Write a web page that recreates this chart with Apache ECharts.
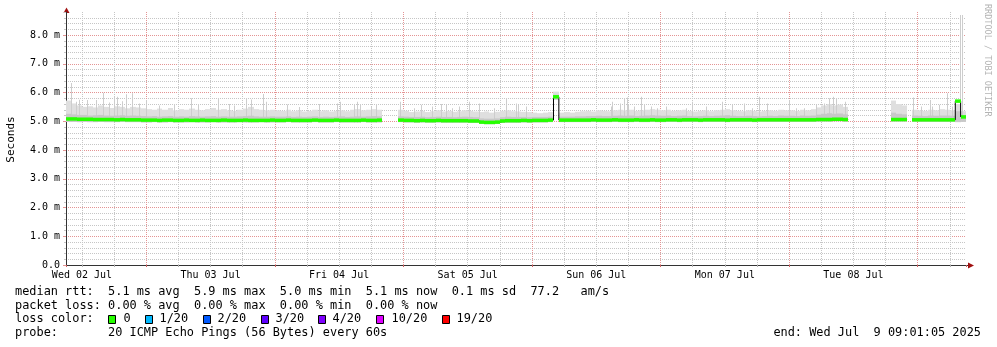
<!DOCTYPE html>
<html><head><meta charset="utf-8">
<script src="https://cdn.jsdelivr.net/npm/echarts@6/dist/echarts.min.js"></script>
<style>html,body{margin:0;padding:0;background:#fff}#c{width:997px;height:347px}</style>
</head><body><div id="c"></div>
<script>
// ---- time axis (hours since Wed 02 Jul 00:00) ----
const startHour = 9.018;   // Wed 02 Jul 09:01
const endHour = 177.018;   // Wed 09 Jul 09:01
const stepHours = 1;       // one consolidated sample per hour
const dayLabels = ['Wed 02 Jul','Thu 03 Jul','Fri 04 Jul','Sat 05 Jul','Sun 06 Jul','Mon 07 Jul','Tue 08 Jul'];
const dayNoons = [12,36,60,84,108,132,156];
const yLabels = ['0.0','1.0 m','2.0 m','3.0 m','4.0 m','5.0 m','6.0 m','7.0 m','8.0 m'];

// ---- median rtt (ms), one value per hour ----
const median = [
 5.08,5.08,5.07,5.07,5.07,5.06,5.06,5.06,5.06,5.05,5.06,5.05,5.05,5.05,5.04,
 5.04,5.04,5.03,5.04,5.04,5.03,5.03,5.04,5.03,5.03,5.04,5.03,5.03,5.03,5.04,5.03,5.03,5.03,5.04,5.03,5.03,5.03,5.03,5.04,
 5.03,5.03,5.04,5.03,5.03,5.03,5.03,5.04,5.03,5.03,5.03,5.04,5.03,5.03,5.03,5.03,5.04,5.03,5.03,5.04,null,null,null,5.04,
 5.03,5.03,5.02,5.03,5.02,5.02,5.03,5.02,5.02,5.02,5.02,5.02,5.01,5.01,4.97,4.96,4.96,4.97,5.01,5.02,5.02,5.02,5.03,5.02,
 5.03,5.03,5.03,5.04,5.85,5.04,5.04,5.04,5.04,5.04,5.04,5.05,5.04,5.04,5.04,5.05,5.04,5.04,5.04,5.05,5.04,5.04,5.05,5.04,
 5.04,5.05,5.05,5.04,5.05,5.05,5.05,5.04,5.05,5.05,5.05,5.05,5.04,5.05,5.05,5.05,5.05,5.04,5.05,5.05,5.05,5.05,5.05,5.05,
 5.05,5.05,5.05,5.05,5.05,5.06,5.06,5.06,5.07,5.07,5.06,null,null,null,null,null,null,null,null,5.06,5.06,5.06,null,5.05,
 5.05,5.05,5.05,5.05,5.05,5.05,5.05,5.7,5.15
];
// ---- smoke: lowest ping, dense-band top, bulk top (ms) ----
const smokeLow = [
 4.98,4.98,4.97,4.98,4.97,4.97,4.98,4.97,4.97,4.97,4.98,4.97,4.97,4.97,4.96,
 4.96,4.97,4.96,4.96,4.97,4.96,4.96,4.96,4.97,4.96,4.96,4.96,4.97,4.96,4.96,4.96,4.96,4.97,4.96,4.96,4.96,4.97,4.96,4.96,
 4.96,4.96,4.97,4.96,4.96,4.96,4.96,4.97,4.96,4.96,4.96,4.97,4.96,4.96,4.96,4.96,4.97,4.96,4.96,4.96,null,null,null,4.97,
 4.96,4.96,4.95,4.96,4.95,4.95,4.96,4.95,4.95,4.95,4.95,4.95,4.94,4.94,4.91,4.9,4.9,4.91,4.94,4.95,4.95,4.95,4.96,4.95,
 4.96,4.96,4.96,4.97,5.75,4.97,4.97,4.97,4.97,4.97,4.97,4.98,4.97,4.97,4.97,4.98,4.97,4.97,4.97,4.98,4.97,4.97,4.98,4.97,
 4.97,4.98,4.98,4.97,4.98,4.98,4.98,4.97,4.98,4.98,4.98,4.98,4.97,4.98,4.98,4.98,4.98,4.97,4.98,4.98,4.98,4.98,4.98,4.98,
 4.98,4.98,4.98,4.98,4.98,4.99,4.99,4.99,5.0,5.0,4.99,null,null,null,null,null,null,null,null,4.99,4.99,4.99,null,4.98,
 4.98,4.98,4.98,4.98,4.98,4.98,4.98,4.97,4.98
];
const smokeMid = [
 5.26,5.24,5.22,5.22,5.2,5.21,5.22,5.2,5.19,5.2,5.21,5.19,5.2,5.19,5.18,
 5.17,5.18,5.16,5.17,5.18,5.16,5.17,5.16,5.18,5.17,5.16,5.17,5.18,5.16,5.17,5.16,5.16,5.17,5.18,5.19,5.17,5.16,5.16,5.17,
 5.16,5.16,5.17,5.15,5.16,5.15,5.16,5.17,5.15,5.16,5.15,5.16,5.17,5.15,5.16,5.17,5.16,5.17,5.18,5.17,null,null,null,5.17,
 5.16,5.15,5.15,5.16,5.14,5.15,5.16,5.15,5.15,5.14,5.15,5.16,5.15,5.14,5.1,5.09,5.09,5.1,5.14,5.16,5.15,5.15,5.15,5.14,
 5.15,5.15,5.15,5.16,5.92,5.16,5.16,5.16,5.17,5.17,5.18,5.18,5.19,5.18,5.18,5.19,5.2,5.19,5.2,5.18,5.19,5.2,5.21,5.2,
 5.19,5.2,5.18,5.19,5.2,5.18,5.17,5.18,5.19,5.18,5.19,5.2,5.21,5.19,5.18,5.18,5.19,5.18,5.17,5.18,5.19,5.18,5.2,5.19,
 5.19,5.18,5.2,5.19,5.2,5.23,5.26,5.28,5.26,5.27,5.24,null,null,null,null,null,null,null,null,5.3,5.26,5.24,null,5.2,
 5.19,5.18,5.2,5.19,5.2,5.2,5.19,5.35,5.22
];
const smokeTop = [
 5.72,5.62,5.55,5.5,5.52,5.48,5.55,5.5,5.46,5.52,5.5,5.45,5.5,5.48,5.45,
 5.42,5.4,5.44,5.4,5.46,5.38,5.42,5.4,5.44,5.4,5.38,5.42,5.46,5.4,5.42,5.38,5.36,5.4,5.44,5.5,5.42,5.4,5.38,5.4,
 5.38,5.36,5.4,5.35,5.38,5.34,5.36,5.4,5.35,5.38,5.34,5.36,5.38,5.35,5.4,5.42,5.38,5.4,5.42,5.4,null,null,null,5.4,
 5.36,5.32,5.34,5.36,5.32,5.35,5.38,5.34,5.36,5.33,5.35,5.38,5.36,5.34,5.32,5.34,5.3,5.33,5.36,5.38,5.35,5.34,5.33,5.32,
 5.3,5.28,5.3,5.32,6.03,5.3,5.32,5.3,5.33,5.35,5.36,5.34,5.38,5.36,5.35,5.38,5.4,5.38,5.4,5.36,5.38,5.4,5.42,5.4,
 5.38,5.4,5.36,5.38,5.4,5.36,5.34,5.36,5.38,5.35,5.38,5.4,5.42,5.38,5.36,5.35,5.38,5.36,5.34,5.36,5.38,5.36,5.4,5.38,
 5.38,5.36,5.4,5.38,5.42,5.48,5.55,5.6,5.55,5.58,5.5,null,null,null,null,null,null,null,null,5.72,5.6,5.55,null,5.4,
 5.38,5.36,5.4,5.38,5.42,5.4,5.38,5.6,5.35
];
// ---- isolated high pings (time in hours, value in ms) ----
const spikeTimes = [9.95,10.88,11.45,12.94,14.62,15.92,17.05,17.98,18.54,19.47,20.22,21.34,22.64,23.95,26.38,29.18,32.35,33.66,37.48,39.45,40.4,42.62,43.55,45.79,46.3,50.27,52.5,56.24,59.6,60.17,62.78,63.28,63.9,65.95,66.89,71.31,73.98,75.23,77.39,78.96,79.9,81.07,82.38,84.25,86.12,88.91,91.21,92.96,93.45,94.83,110.69,110.99,112.43,113.17,113.73,113.98,115.05,116.3,116.91,118.16,119.4,120.96,124.69,125.8,128.43,131.53,133.39,135.58,137.13,138.38,139.93,143.98,145.23,146.78,148.97,150.52,151.45,152.2,152.7,154.44,167.05,168.56,170.3,170.67,171.98,173.42,174.47,175.9,176.18];
const spikeValues = [6.33,5.68,5.75,5.74,5.74,5.99,5.65,5.85,5.85,5.7,5.94,5.97,5.62,5.74,5.55,5.6,5.8,5.6,5.8,5.6,5.55,5.8,5.76,5.95,5.68,5.58,5.5,5.6,5.62,5.68,5.6,5.68,5.6,5.5,5.6,5.68,5.45,5.57,5.51,5.6,5.57,5.45,5.51,5.68,5.62,5.45,5.8,5.62,5.57,5.51,5.51,5.68,5.62,5.8,5.83,5.57,5.51,5.85,5.6,5.51,5.45,5.51,5.45,5.68,5.51,5.68,5.57,5.62,5.45,5.85,5.62,5.74,5.45,5.45,5.57,5.62,5.8,5.85,5.8,5.68,5.83,5.51,5.74,5.51,5.57,5.97,5.51,8.7,8.7];

// ---- legend / stats text ----
const statsLines = [
 'median rtt:  5.1 ms avg  5.9 ms max  5.0 ms min  5.1 ms now  0.1 ms sd  77.2   am/s',
 'packet loss: 0.00 % avg  0.00 % max  0.00 % min  0.00 % now',
 'loss color:',
 'probe:       20 ICMP Echo Pings (56 Bytes) every 60s'
];
const endText = 'end: Wed Jul  9 09:01:05 2025';
const lossLabels = ['0','1/20','2/20','3/20','4/20','10/20','19/20'];
const lossColors = ['#26ff00','#00b8ff','#0059ff','#5e00ff','#7e00ff','#dd00ff','#ff0000'];

// ================== chart ==================
const MONO = 'DejaVu Sans Mono';
const times = median.map((_, k) => startHour + k * stepHours);
const chart = echarts.init(document.getElementById('c'), null, {renderer: 'canvas', width: 997, height: 347});

function bandSeries(lowArr, highArr, color, z) {
  return {
    type: 'custom', xAxisIndex: 0, yAxisIndex: 0, clip: true, silent: true, z: z,
    data: times.map((t, k) => [t, lowArr[k], highArr[k]]).filter(d => d[1] != null && d[2] != null),
    encode: {x: 0, y: [1, 2]},
    renderItem(params, api) {
      const t = api.value(0);
      const a = api.coord([t, api.value(2)]);
      const b = api.coord([t + stepHours, api.value(1)]);
      const x0 = Math.round(a[0]), x1 = Math.round(b[0]);
      return {type: 'rect', shape: {x: x0, y: a[1], width: x1 - x0, height: b[1] - a[1]}, style: {fill: color}};
    }
  };
}
function lowAt(t) {
  const k = Math.floor((t - startHour) / stepHours);
  return smokeLow[k] != null ? smokeLow[k] : 5.0;
}

const legendBoxX = [108.5, 145.5, 203.5, 261.5, 318.5, 376.5, 442.5];
const legendTextX = [123.5, 159.5, 217.5, 275.5, 332.5, 391.5, 456.5];
const graphics = [];
const baseY = [291.8, 305.6, 319.4, 333.2];
function txt(x, y, s, size, align, fill, rot) {
  return {type: 'text', x: x, y: y, rotation: rot || 0, silent: true, z: 10,
    style: {text: s, fontFamily: MONO, fontSize: size, fill: fill || '#000', align: align, verticalAlign: 'middle', textAlign: align, textVerticalAlign: 'middle'}};
}
statsLines.forEach((s, i) => graphics.push(txt(15, baseY[i], s, 11.9, 'left')));
graphics.push(txt(981, baseY[3], endText, 11.9, 'right'));
lossLabels.forEach((lab, i) => {
  graphics.push({type: 'rect', silent: true, shape: {x: legendBoxX[i], y: 315.5, width: 7, height: 8},
    style: {fill: lossColors[i], stroke: '#000', lineWidth: 1}});
  graphics.push(txt(legendTextX[i], baseY[2], lab, 11.9, 'left'));
});
graphics.push(txt(11.5, 139.5, 'Seconds', 11, 'center', '#000', Math.PI / 2));
graphics.push(txt(987, 4, 'RRDTOOL / TOBI OETIKER', 8.5, 'left', '#b4b4b4', -Math.PI / 2));
// axis arrows
graphics.push({type: 'line', silent: true, shape: {x1: 966, y1: 265.5, x2: 969, y2: 265.5}, style: {stroke: '#333', lineWidth: 1}});
graphics.push({type: 'polygon', silent: true, shape: {points: [[974, 265.5], [968, 262.5], [968, 268.5]]}, style: {fill: '#a01010'}});
graphics.push({type: 'polygon', silent: true, shape: {points: [[66.5, 7.5], [63.5, 13], [69.5, 13]]}, style: {fill: '#a01010'}});

const MINOR = '#c6c6c6', MAJOR = '#e49494';
const dotted = c => ({show: true, showMinLine: false, showMaxLine: false, lineStyle: {color: c, width: 1, type: [1, 1]}});

const option = {
  animation: false,
  backgroundColor: '#fff',
  grid: {left: 66, top: 12, width: 900, height: 253, outerBoundsMode: 'none', containLabel: false},
  xAxis: [
    // data axis, hours
    {type: 'value', position: 'bottom', min: startHour, max: endHour,
     axisLine: {show: true, onZero: false, lineStyle: {color: '#333', width: 1}},
     axisTick: {show: false},
     axisLabel: {show: true, customValues: dayNoons, margin: 5, color: '#000', fontFamily: MONO, fontSize: 10,
       formatter: v => { const i = dayNoons.findIndex(n => Math.abs(n - v) < 0.01); return i >= 0 ? dayLabels[i] : ''; }},
     splitLine: {show: false}},
    // grid axis in quarter days (6 h lines)
    {type: 'value', position: 'bottom', min: startHour / 6, max: endHour / 6, splitNumber: 28,
     axisLine: {show: false}, axisLabel: {show: false},
     axisTick: {show: true, length: 2, lineStyle: {color: '#b0b0b0'}},
     splitLine: dotted(MINOR)},
    // grid axis in days (midnight lines)
    {type: 'value', position: 'bottom', min: startHour / 24, max: endHour / 24, splitNumber: 7,
     axisLine: {show: false}, axisLabel: {show: false},
     axisTick: {show: true, length: 2, lineStyle: {color: '#d06060'}},
     splitLine: dotted(MAJOR)}
  ],
  yAxis: [
    {type: 'value', position: 'left', min: 0, max: 8.8, interval: 0.2,
     axisLine: {show: true, onZero: false, lineStyle: {color: '#333', width: 1}},
     axisTick: {show: true, length: 2, lineStyle: {color: MINOR}},
     axisLabel: {show: false},
     splitLine: dotted(MINOR)},
    {type: 'value', position: 'left', min: 0, max: 8.8, interval: 1,
     axisLine: {show: false},
     axisTick: {show: true, length: 3, lineStyle: {color: MAJOR}},
     axisLabel: {show: true, showMaxLabel: false, margin: 6, color: '#000', fontFamily: MONO, fontSize: 10,
       formatter: v => (Math.abs(v - Math.round(v)) < 1e-6 && yLabels[Math.round(v)]) ? yLabels[Math.round(v)] : ''},
     splitLine: dotted(MAJOR)}
  ],
  graphic: graphics,
  series: [
    bandSeries(smokeLow, smokeTop, '#dfdfdf', 2),
    {
      type: 'custom', xAxisIndex: 0, yAxisIndex: 0, clip: true, silent: true, z: 2,
      data: spikeTimes.map((t, i) => [t, lowAt(t), spikeValues[i]]),
      encode: {x: 0, y: [1, 2]},
      renderItem(params, api) {
        const a = api.coord([api.value(0), api.value(2)]);
        const b = api.coord([api.value(0), api.value(1)]);
        const x = Math.round(a[0]);
        return {type: 'rect', shape: {x: x, y: a[1], width: 1, height: b[1] - a[1]}, style: {fill: '#cdcdcd'}};
      }
    },
    bandSeries(smokeLow, smokeMid, '#c8c8c8', 3),
    {
      type: 'line', xAxisIndex: 0, yAxisIndex: 0, step: 'end', symbol: 'none', silent: true, z: 4,
      connectNulls: false, lineStyle: {color: '#000', width: 1},
      data: times.map((t, k) => [t, median[k]])
    },
    {
      type: 'custom', xAxisIndex: 0, yAxisIndex: 0, clip: true, silent: true, z: 5,
      data: times.map((t, k) => [t, median[k]]).filter(d => d[1] != null),
      encode: {x: 0, y: 1},
      renderItem(params, api) {
        const t = api.value(0);
        const a = api.coord([t, api.value(1)]);
        const b = api.coord([t + stepHours, api.value(1)]);
        const x0 = Math.round(a[0]), x1 = Math.round(b[0]);
        return {type: 'rect', shape: {x: x0, y: a[1] - 1.75, width: x1 - x0, height: 3.5}, style: {fill: lossColors[0]}};
      }
    }
  ]
};
chart.setOption(option);
</script>
</body></html>
